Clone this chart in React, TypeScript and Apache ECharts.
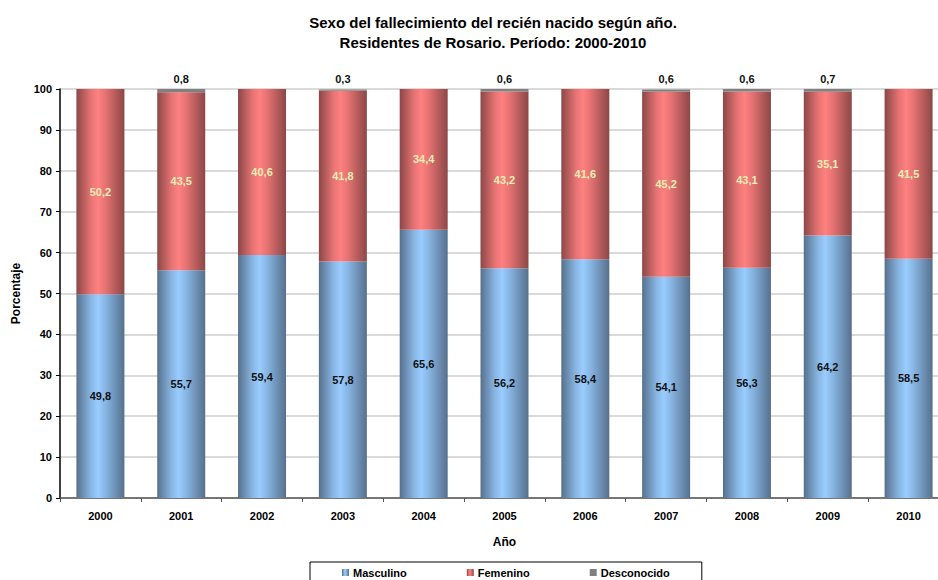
import React, { useEffect, useRef } from "react";
import * as echarts from "echarts";

const years = ["2000", "2001", "2002", "2003", "2004", "2005", "2006", "2007", "2008", "2009", "2010"];
const masculino = [49.8, 55.7, 59.4, 57.8, 65.6, 56.2, 58.4, 54.1, 56.3, 64.2, 58.5];
const femenino = [50.2, 43.5, 40.6, 41.8, 34.4, 43.2, 41.6, 45.2, 43.1, 35.1, 41.5];
const desconocido = [0, 0.8, 0, 0.3, 0, 0.6, 0, 0.6, 0.6, 0.7, 0];
const yTicks = [0, 10, 20, 30, 40, 50, 60, 70, 80, 90, 100];

const fmt = (v: number) => (v ? v.toFixed(1).replace(".", ",") : "");
const FONT = "Liberation Sans, Arial, sans-serif";

const grad = (edge: string, mid: string, center: string) =>
  new echarts.graphic.LinearGradient(0, 0, 1, 0, [
    { offset: 0, color: edge },
    { offset: 0.3, color: mid },
    { offset: 0.45, color: center },
    { offset: 0.6, color: mid },
    { offset: 1, color: edge },
  ]);

export default function App() {
  const ref = useRef<HTMLDivElement>(null);
  useEffect(() => {
    if (!ref.current) return;
    const chart = echarts.init(ref.current, null, { renderer: "svg" });
    const blue = grad("#56708c", "#88b6e4", "#99ccff");
    const red = grad("#8c4747", "#e67373", "#ff8080");
    const labelBase = { fontFamily: FONT, fontWeight: "bold" as const, fontSize: 11 };
    chart.setOption({
      animation: false,
      backgroundColor: "#ffffff",
      title: {
        text: "Sexo del fallecimiento del recién nacido según año.\nResidentes de Rosario. Período: 2000-2010",
        left: 488,
        textAlign: "center",
        top: 7,
        textStyle: { fontFamily: FONT, fontWeight: "bold", fontSize: 15, lineHeight: 20, color: "#000" },
      },
      legend: {
        bottom: -6,
        left: 310,
        itemGap: 60,
        padding: [5, 32, 8, 32],
        borderColor: "#000",
        borderWidth: 1,
        itemWidth: 7,
        itemHeight: 7,
        icon: "rect",
        textStyle: { fontFamily: FONT, fontWeight: "bold", fontSize: 11, color: "#000", padding: [0, 0, 0, -1] },
        data: ["Masculino", "Femenino", "Desconocido"],
      },
      grid: { left: 60, right: 1, top: 89, bottom: 82 },
      xAxis: {
        type: "category",
        data: years,
        name: "Año",
        nameLocation: "middle",
        nameGap: 38,
        nameTextStyle: { fontFamily: FONT, fontWeight: "bold", fontSize: 12, color: "#000" },
        axisLine: { lineStyle: { color: "#555", width: 1.5 } },
        axisTick: { show: true, length: 4, lineStyle: { color: "#555" } },
        axisLabel: { fontFamily: FONT, fontWeight: "bold", fontSize: 11, color: "#000", margin: 12 },
      },
      yAxis: {
        type: "value",
        min: yTicks[0],
        max: yTicks[yTicks.length - 1],
        interval: 10,
        name: "Porcentaje",
        nameLocation: "middle",
        nameGap: 38,
        nameTextStyle: { fontFamily: FONT, fontWeight: "bold", fontSize: 12, color: "#000" },
        axisLine: { show: true, lineStyle: { color: "#000", width: 1.5 } },
        axisTick: { show: true, length: 4, lineStyle: { color: "#000" } },
        axisLabel: { fontFamily: FONT, fontWeight: "bold", fontSize: 11, color: "#000", margin: 8 },
        splitLine: { lineStyle: { color: "#dadada", width: 2 } },
      },
      series: [
        {
          name: "Masculino",
          type: "bar",
          stack: "s",
          barWidth: 48,
          data: masculino,
          itemStyle: { color: blue },
          label: { show: true, position: "inside", color: "#111", ...labelBase, formatter: (p: any) => fmt(p.value) },
        },
        {
          name: "Femenino",
          type: "bar",
          stack: "s",
          barWidth: 48,
          data: femenino,
          itemStyle: { color: red },
          label: { show: true, position: "inside", color: "#e4efb2", ...labelBase, formatter: (p: any) => fmt(p.value) },
        },
        {
          name: "Desconocido",
          type: "bar",
          stack: "s",
          barWidth: 48,
          data: desconocido,
          itemStyle: { color: "#808080" },
          label: { show: true, position: "top", distance: 5, color: "#111", ...labelBase, formatter: (p: any) => fmt(p.value) },
        },
      ],
    });
    return () => chart.dispose();
  }, []);
  return <div ref={ref} style={{ position: "fixed", left: 0, top: 0, width: 950, height: 580 }} />;
}
